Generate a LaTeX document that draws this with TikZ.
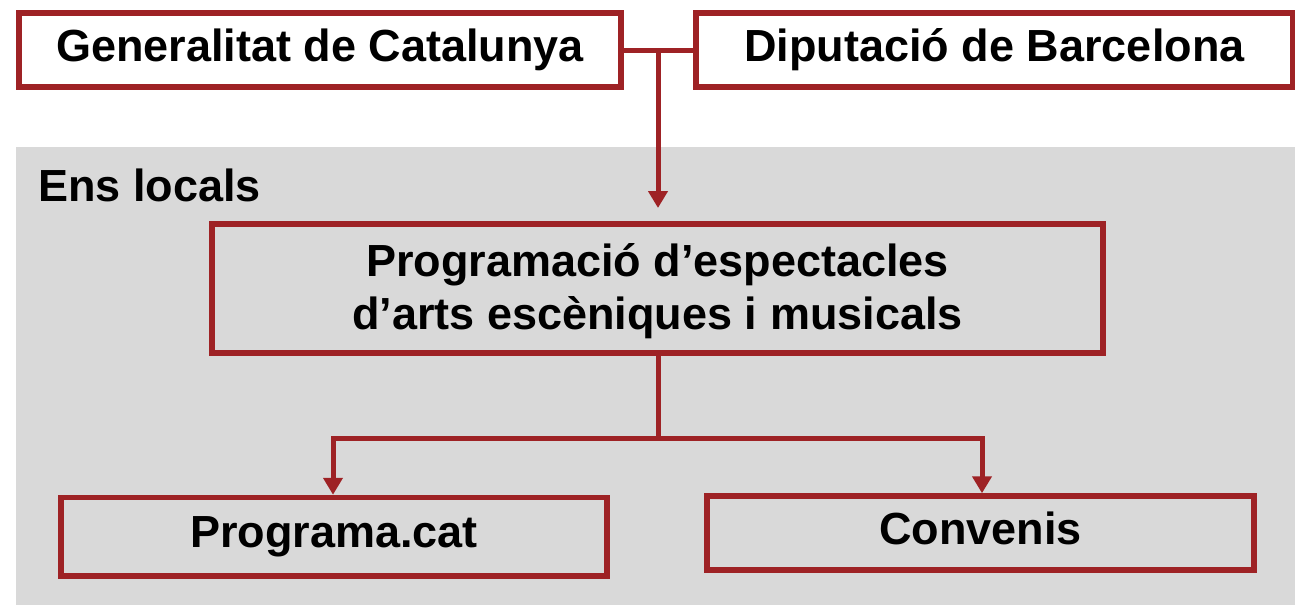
\documentclass[tikz,border=0pt]{standalone}
\usepackage{fontspec}
\setmainfont{Liberation Sans}
\usetikzlibrary{arrows.meta}
\definecolor{dred}{RGB}{158,34,37}
\definecolor{bggray}{RGB}{217,217,217}
\begin{document}
\begin{tikzpicture}[x=1pt,y=-1pt,
  box/.style={draw=dred, line width=5.5pt, inner sep=0pt, align=center,
    font=\fontsize{45}{53}\selectfont\bfseries},
  capbox/.style={box, text height=32pt, text depth=10pt},
  conn/.style={draw=dred, line width=5pt},
  arr/.style={conn, -{Triangle[width=19pt,length=17pt]}}
]
\useasboundingbox (0,0) rectangle (1295,605);
\fill[bggray] (16,147) rectangle (1295,605);

\node[capbox, fill=white, minimum width=602pt, minimum height=74pt] (gen) at (320,50) {Generalitat de Catalunya};
\node[capbox, fill=white, minimum width=597pt, minimum height=74pt] (dip) at (994.5,50) {Diputació de Barcelona};

\node[anchor=base west, inner sep=0pt, font=\fontsize{45}{53}\selectfont\bfseries] (ens) at (38,201) {Ens locals};

\node[box, text height=85pt, text depth=4pt, minimum width=891pt, minimum height=129pt] (prog) at (657.5,288.5) {Programació d’espectacles\\d’arts escèniques i musicals};

\node[capbox, minimum width=546pt, minimum height=78.5pt] (pc) at (334,536.75) {Programa.cat};
\node[capbox, minimum width=547pt, minimum height=74pt] (conv) at (980.5,533) {Convenis};

\coordinate (j) at (658,50);
\coordinate (t) at (658,208);
\coordinate (m) at (658,438);
\coordinate (hl) at (333,438);
\coordinate (hr) at (982,438);

\draw[conn] (gen.east) -- (dip.west);
\draw[arr] (j) -- (t);
\draw[conn] (prog.south -| m) -- (m);
\draw[arr] (m) -- (hl) -- (hl |- pc.north);
\draw[arr] (m) -- (hr) -- (hr |- conv.north);
\end{tikzpicture}
\end{document}
